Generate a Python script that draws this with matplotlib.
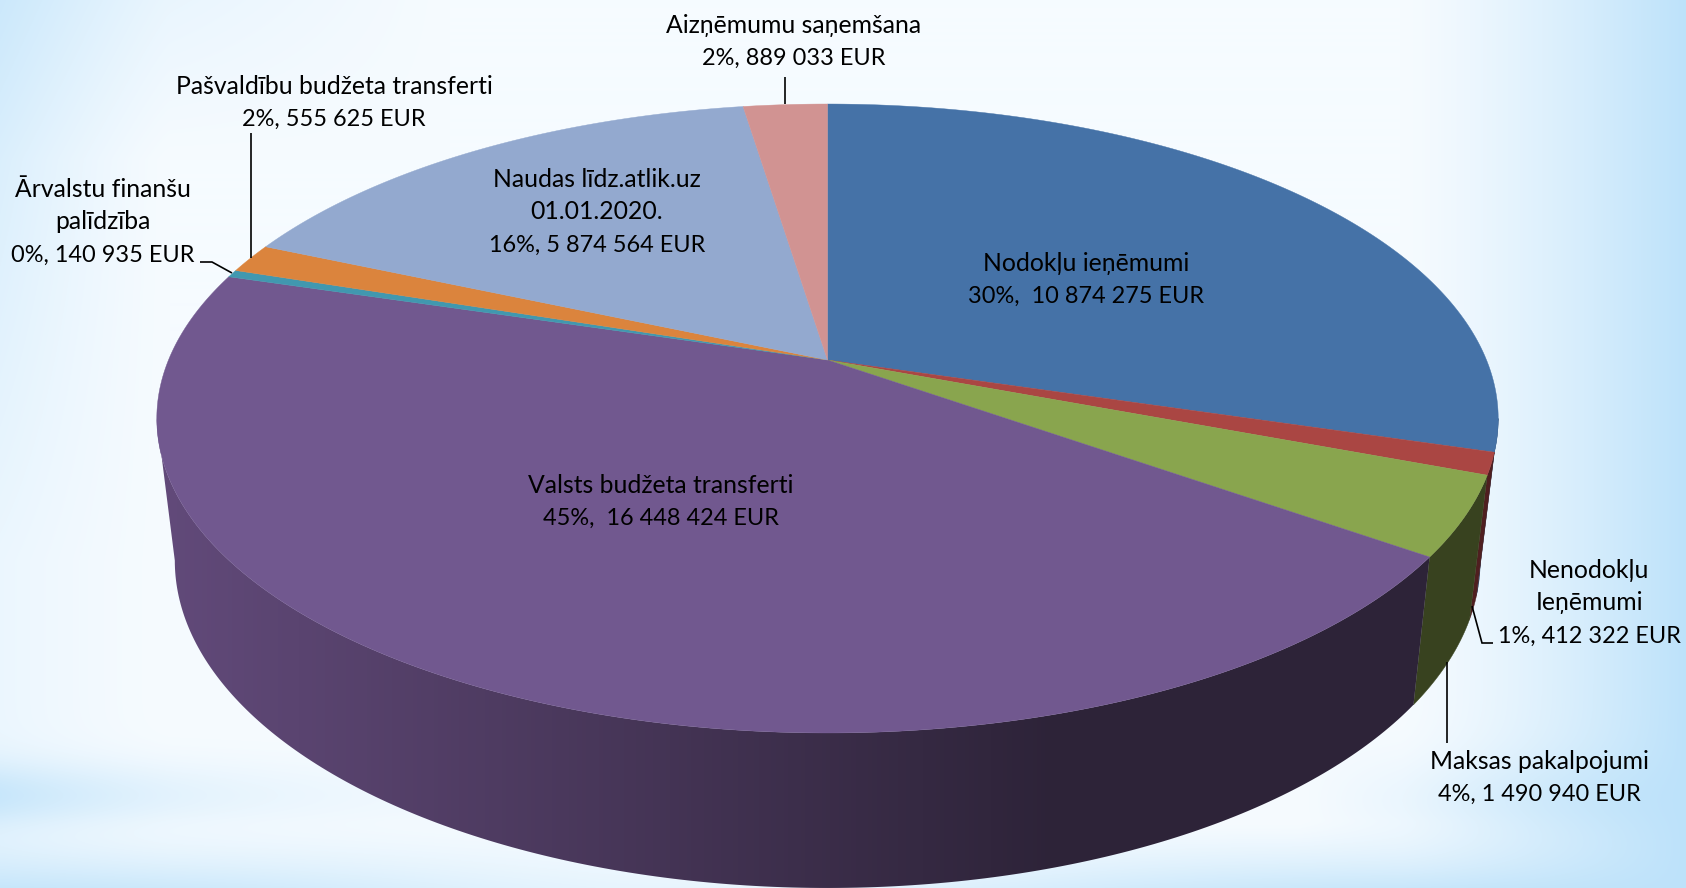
import numpy as np
import matplotlib.pyplot as plt
from matplotlib.colors import to_rgb
from matplotlib.patches import Polygon

# Dati
categories = ["Nodokļu ieņēmumi", "Nenodokļu\nIeņēmumi", "Maksas pakalpojumi",
              "Valsts budžeta transferti", "Ārvalstu finanšu\npalīdzība",
              "Pašvaldību budžeta transferti", "Naudas līdz.atlik.uz\n01.01.2020.",
              "Aizņēmumu saņemšana"]
values = [10874275, 412322, 1490940, 16448424, 140935, 555625, 5874564, 889033]
value_labels = ["30%,  10 874 275 EUR", "1%, 412 322 EUR", "4%, 1 490 940 EUR",
                "45%,  16 448 424 EUR", "0%, 140 935 EUR", "2%, 555 625 EUR",
                "16%, 5 874 564 EUR", "2%, 889 033 EUR"]
colors = ["#4572A7", "#AA4643", "#89A54E", "#71588F",
          "#4198AF", "#DB843D", "#93A9CF", "#D19392"]
wall_colors = ["#2a4566", "#4f1f20", "#38421f", "#71588F",
               "#27606f", "#8a5020", "#5a6a85", "#805a59"]

# centrs tekstam (px)
label_xy = [(1086, 279), (1589, 602), (1539, 777), (661, 501),
            (103, 221), (334, 102), (597, 211), (794, 41)]
leaders = [[(785, 77), (785, 104)],
           [(251, 133), (251, 258)],
           [(200, 262), (212, 262), (232, 273)],
           [(1493, 643), (1482, 643), (1472, 606)],
           [(1447, 743), (1447, 662)]]

W, H = 1686, 888
APEX = (827.5, 360.0)
K = 0.186
A = 659.0
B = 303.6
TOP_C = (828.0, 418.0)
TOP_R = (671.0, 315.0)
BOT_C = (828.0, 560.0)
BOT_R = (653.0, 328.0)
LINE_H = 32.4


# punkts uz augšējās malas (phi mērīts pulksteņrādītāja virzienā no augšas)
def rim(phi):
    s = np.sin(phi)
    c = np.cos(phi)
    w = 1 + K * c
    return APEX[0] + A * s / w, APEX[1] - B * c / w


def lower(x, y):
    px = (x - TOP_C[0]) / TOP_R[0]
    py = (y - TOP_C[1]) / TOP_R[1]
    return BOT_C[0] + px * BOT_R[0], BOT_C[1] + py * BOT_R[1]


def background():
    yy, xx = np.mgrid[0:H, 0:W]
    right = np.clip((xx - 1400) / 286, 0, 1) ** 1.3
    left = 0.6 * np.clip(1 - xx / 170, 0, 1) ** 1.3 * np.clip(1 - yy / 800, 0.3, 1)
    bottom = np.clip((yy - 820) / 68, 0, 1) ** 1.4 * (0.85 - 0.6 * np.exp(-((xx - 700) / 420) ** 2))
    band_l = 0.75 * np.exp(-((yy - 795) / 34) ** 2) * np.exp(-xx / 210)
    band_r = 0.75 * np.exp(-((yy - 800) / 45) ** 2) * np.clip((xx - 1300) / 386, 0, 1)
    top_l = 0.35 * np.clip(1 - yy / 160, 0, 1) * np.clip(1 - xx / 450, 0, 1)
    w = 1 - (1 - right) * (1 - left) * (1 - bottom) * (1 - band_l) * (1 - band_r) * (1 - top_l)
    base = np.array([246, 251, 255]) / 255
    blue = np.array([189, 226, 250]) / 255
    return base + w[..., None] * (blue - base)


def main():
    plt.rcParams["font.family"] = ["Lato", "DejaVu Sans"]
    fig = plt.figure(figsize=(W / 100, H / 100), dpi=100)
    ax = fig.add_axes([0, 0, 1, 1])
    ax.imshow(background(), extent=(0, W, H, 0), aspect="auto", zorder=0)

    fractions = np.array(values) / np.sum(values)
    edges = np.concatenate([[0], np.cumsum(fractions)]) * 2 * np.pi
    vis_start = np.arccos(-K)
    vis_end = 2 * np.pi - vis_start

    # Sienas
    for i in range(len(values)):
        start = max(edges[i], vis_start)
        end = min(edges[i + 1], vis_end)
        if end <= start:
            continue
        phi = np.linspace(start, end, 200)
        tx, ty = rim(phi)
        bx, by = lower(tx, ty)
        poly = np.column_stack([np.r_[tx, bx[::-1]], np.r_[ty, by[::-1]]])
        if i == 3:
            # violetā siena ar gradientu
            light = np.array(to_rgb("#624a7a"))
            dark = np.array(to_rgb("#2d2338"))
            t = np.clip((np.linspace(0, W, 400) - 160) / 900, 0, 1)[None, :, None]
            grad = light + t * (dark - light)
            im = ax.imshow(grad, extent=(0, W, H, 0), aspect="auto", zorder=1)
            clip = Polygon(poly, closed=True, transform=ax.transData, fc="none", ec="none")
            ax.add_patch(clip)
            im.set_clip_path(clip)
        else:
            ax.fill(poly[:, 0], poly[:, 1], color=wall_colors[i], lw=0.3, zorder=1)

    # Augšējā virsma
    for i in range(len(values)):
        phi = np.linspace(edges[i], edges[i + 1], 300)
        x, y = rim(phi)
        ax.fill(np.r_[APEX[0], x], np.r_[APEX[1], y], color=colors[i], lw=0.3, zorder=2)

    for line in leaders:
        pts = np.array(line)
        ax.plot(pts[:, 0], pts[:, 1], color="black", lw=1.2, zorder=3,
                solid_capstyle="butt", solid_joinstyle="miter")

    # Uzraksti pa rindām, skaitļu rinda mazliet mazāka (Lato cipari platāki par Calibri)
    for name, val, (lx, ly) in zip(categories, value_labels, label_xy):
        rows = name.split("\n") + [val]
        for j, row in enumerate(rows):
            ry = ly + (j - (len(rows) - 1) / 2) * LINE_H + 8
            size = 16.9 if row == val else 17.8
            ax.text(lx, ry, row, ha="center", va="baseline", fontsize=size,
                    color="black", zorder=4)

    ax.set_xlim(0, W)
    ax.set_ylim(H, 0)
    ax.axis("off")
    fig.savefig("out.png", dpi=100)


if __name__ == "__main__":
    main()
